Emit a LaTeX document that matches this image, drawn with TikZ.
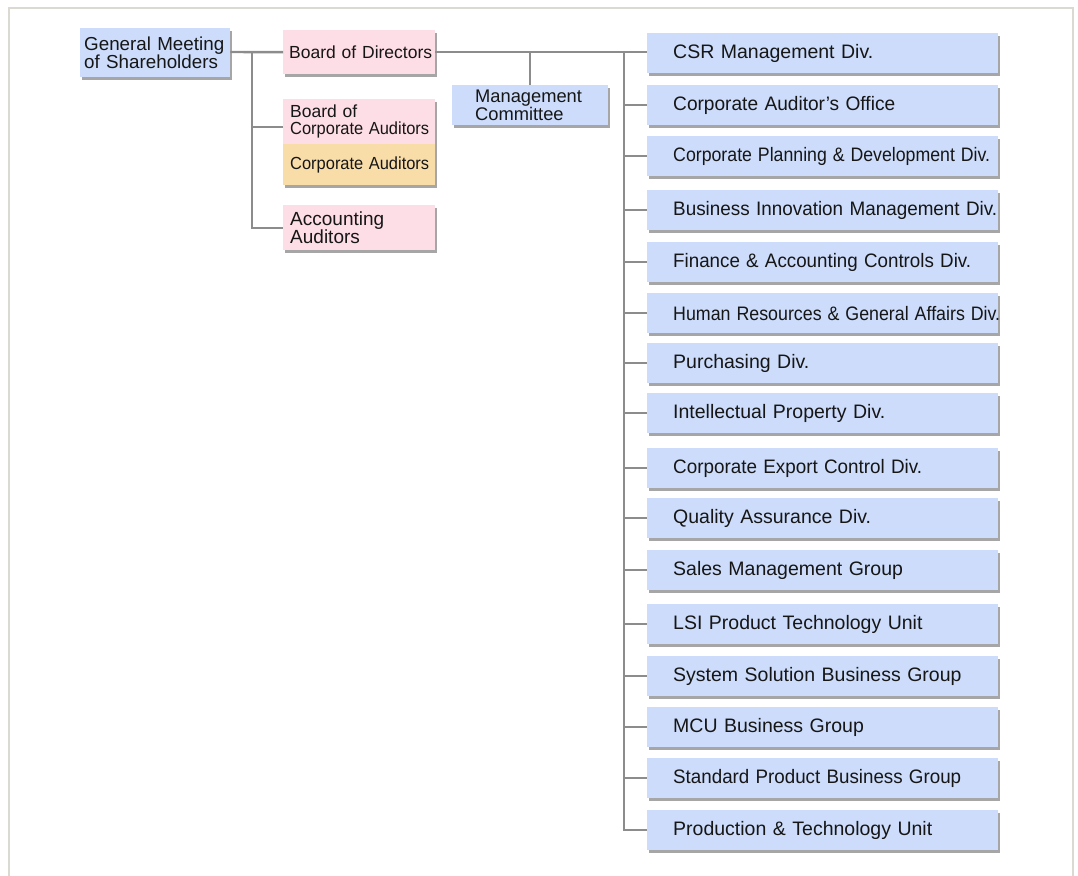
\documentclass[tikz,border=0pt]{standalone}
\usepackage{fontspec}
\setmainfont{Liberation Sans}
\usetikzlibrary{shadows}
\definecolor{bluebox}{RGB}{204,220,250}
\definecolor{pinkbox}{RGB}{253,221,230}
\definecolor{orangebox}{RGB}{249,221,168}
\definecolor{linegray}{RGB}{140,140,140}
\definecolor{framegray}{RGB}{218,218,210}
\definecolor{txt}{RGB}{22,22,22}
\tikzset{
  box/.style={rectangle, anchor=north west, inner xsep=0pt, inner ysep=0pt, align=left, text=txt,
    drop shadow={shadow xshift=2pt, shadow yshift=-3pt, opacity=0.35, fill=black}},
  rbox/.style={box, fill=bluebox, minimum width=351pt, text width=351pt, minimum height=40pt,
    font=\fontsize{19.5}{22}\selectfont},
  lbox/.style={box, minimum width=152pt, text width=152pt},
  conn/.style={draw=linegray, line width=2.4pt},
  frame/.style={draw=framegray, line width=2pt},
}
\newcommand{\rtext}[1]{\hspace*{26pt}\mbox{#1}}
\newcommand{\rtextw}[2]{\hspace*{26pt}\resizebox{#1}{\height}{#2}}
\newcommand{\ltextw}[2]{\hspace*{7pt}\resizebox{#1}{\height}{#2}}
\begin{document}
\begin{tikzpicture}[x=1pt,y=-1pt]
\useasboundingbox (0,0) rectangle (1078,875);
\draw[frame] (9,880) -- (9,8) -- (1073,8) -- (1073,880);

% left part
\node[box, fill=bluebox, minimum width=150pt, text width=150pt, minimum height=49pt,
  font=\fontsize{18.8}{18}\selectfont] (gm) at (80,28)
  {\hspace*{4pt}General Meeting\\\hspace*{4pt}of Shareholders};
\node[lbox, fill=pinkbox, minimum height=44pt, font=\fontsize{17.5}{18}\selectfont] (bod) at (283,30)
  {\hspace*{6pt}Board of Directors};
\node[lbox, fill=pinkbox, minimum height=45pt, font=\fontsize{17.5}{17.5}\selectfont] (bca) at (283,99)
  {\hspace*{7pt}Board of\\\ltextw{139pt}{Corporate Auditors}};
\node[lbox, fill=orangebox, minimum height=41pt, font=\fontsize{17.5}{18}\selectfont] (ca) at (283,144)
  {\ltextw{139pt}{Corporate Auditors}};
\node[lbox, fill=pinkbox, minimum height=45pt, font=\fontsize{19}{18.5}\selectfont] (aa) at (283,205)
  {\hspace*{7pt}Accounting\\\hspace*{7pt}Auditors};
\node[box, fill=bluebox, minimum width=156pt, text width=156pt, minimum height=40pt,
  font=\fontsize{18.3}{17}\selectfont] (mc) at (452,85)
  {\hspace*{23pt}Management\\\hspace*{23pt}Committee};

% right column
\node[rbox] (d1) at (647,33) {\rtext{CSR Management Div.}};
\node[rbox] (d2) at (647,85) {\rtextw{222pt}{Corporate Auditor's Office}};
\node[rbox] (d3) at (647,136) {\rtextw{317pt}{Corporate Planning \& Development Div.}};
\node[rbox] (d4) at (647,190) {\rtextw{324pt}{Business Innovation Management Div.}};
\node[rbox] (d5) at (647,242) {\rtextw{298pt}{Finance \& Accounting Controls Div.}};
\node[rbox] (d6) at (647,293) {\rtextw{327pt}{Human Resources \& General Affairs Div.}};
\node[rbox] (d7) at (647,343) {\rtext{Purchasing Div.}};
\node[rbox] (d8) at (647,393) {\rtext{Intellectual Property Div.}};
\node[rbox] (d9) at (647,448) {\rtextw{249pt}{Corporate Export Control Div.}};
\node[rbox] (d10) at (647,498) {\rtext{Quality Assurance Div.}};
\node[rbox] (d11) at (647,550) {\rtext{Sales Management Group}};
\node[rbox] (d12) at (647,604) {\rtext{LSI Product Technology Unit}};
\node[rbox] (d13) at (647,656) {\rtext{System Solution Business Group}};
\node[rbox] (d14) at (647,707) {\rtext{MCU Business Group}};
\node[rbox] (d15) at (647,758) {\rtextw{288pt}{Standard Product Business Group}};
\node[rbox] (d16) at (647,810) {\rtext{Production \& Technology Unit}};

% connectors
\coordinate (j1) at (252,52);
\coordinate (t0) at (624,52);
\draw[conn] (gm.east |- j1) -- (bod.west);
\draw[conn] (j1) |- ([yshift=-5.5pt]bca.west);
\draw[conn] (j1) |- (aa.west);
\draw[conn] (bod.east) -- (d1.west |- bod.east);
\draw[conn] (mc.north) -- (mc.north |- bod.east);
\foreach \i in {2,...,16} {\draw[conn] (t0) |- (d\i.west);}
\end{tikzpicture}
\end{document}
